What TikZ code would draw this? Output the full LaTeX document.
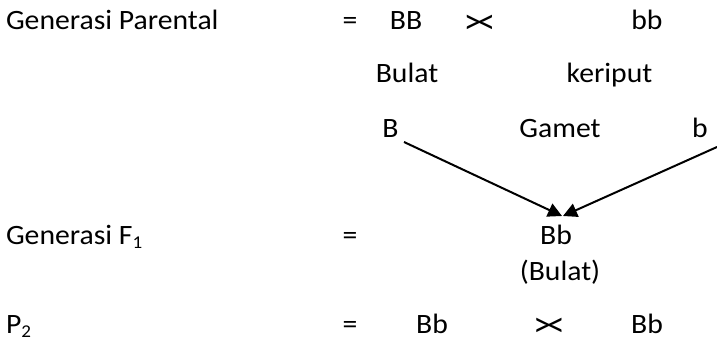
\documentclass[tikz,border=0pt]{standalone}
\usepackage{fontspec}
\setmainfont{Carlito}[FakeStretch=1.06]
\usetikzlibrary{arrows.meta}
\newcommand{\sbs}[1]{\raisebox{-4pt}{\fontsize{18}{20}\selectfont #1}}
\begin{document}
\begin{tikzpicture}[x=1pt,y=-1pt,
  txt/.style={inner sep=0pt,outer sep=0pt,anchor=base,font=\fontsize{28}{34}\selectfont},
  txtl/.style={txt,anchor=base west},
  cross/.style={inner sep=0pt,outer sep=0pt,anchor=base,font=\fontsize{35}{38}\selectfont},
  arr/.style={line width=2pt,-{Triangle[length=14pt,width=14pt]}}]
\useasboundingbox (0,0) rectangle (717,340);
% row 1
\node[txtl] (gp) at (6,29) {Generasi Parental};
\node[txt] (eq1) at (350,29) {=};
\node[txt] (BB) at (406,29) {BB};
\node[cross] (x1) at (479.5,33) {>\kern-0.15em<};
\node[txt] (bb) at (647,29) {bb};
% row 2
\node[txt] (bulat) at (407,82) {Bulat};
\node[txt] (keriput) at (609.5,82) {keriput};
% row 3
\node[txt] (gB) at (390.5,137) {B};
\node[txt] (gamet) at (560,137) {Gamet};
\node[txt] (gb) at (700,137) {b};
% arrows
\coordinate (ls) at (404,142);
\coordinate (lt) at (562,216);
\coordinate (rs) at (717,147);
\coordinate (rt) at (563,216);
\draw[arr] (ls) -- (lt);
\draw[arr] (rs) -- (rt);
% row 4
\node[txtl] (gf) at (6,244) {Generasi F\sbs{1}};
\node[txt] (eq2) at (350,244) {=};
\node[txt] (F1) at (556,244) {Bb};
\node[txt] (F1p) at (560,280) {(Bulat)};
% row 5
\node[txtl] (p2) at (6,333) {P\sbs{2}};
\node[txt] (eq3) at (350,333) {=};
\node[txt] (p2a) at (432,333) {Bb};
\node[cross] (x2) at (549,336) {>\kern-0.15em<};
\node[txt] (p2b) at (647,333) {Bb};
\end{tikzpicture}
\end{document}
